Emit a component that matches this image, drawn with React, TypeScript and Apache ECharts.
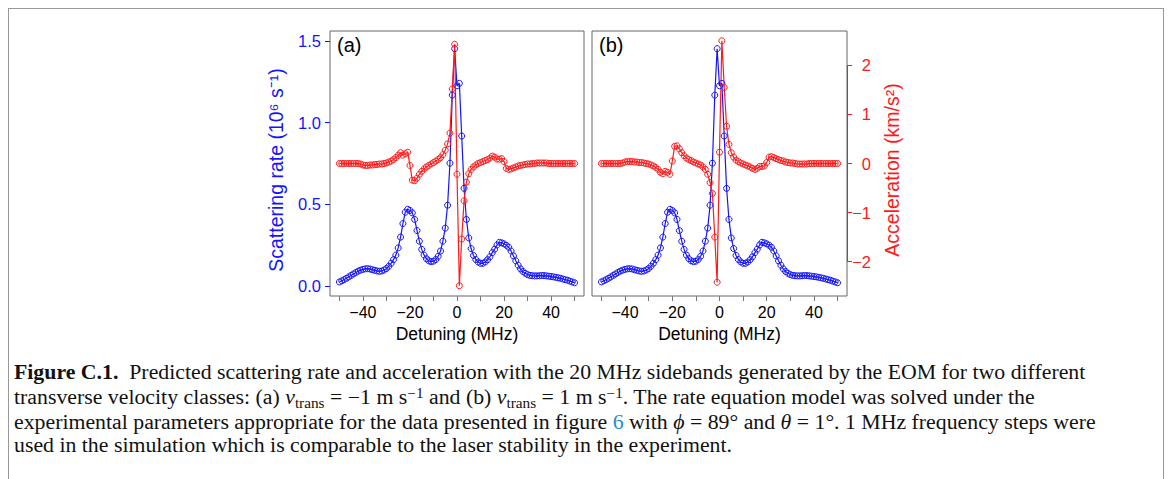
import React, { useEffect, useRef } from "react";
import * as echarts from "echarts";

const detuning = [
  -50, -49, -48, -47, -46, -45, -44, -43, -42, -41, -40, -39, -38, -37, -36, -35, -34, -33, -32, -31,
  -30, -29, -28, -27, -26, -25, -24, -23, -22, -21, -20, -19, -18, -17, -16, -15, -14, -13, -12, -11,
  -10, -9, -8, -7, -6, -5, -4, -3, -2, -1, 0, 1, 2, 3, 4, 5, 6, 7, 8, 9,
  10, 11, 12, 13, 14, 15, 16, 17, 18, 19, 20, 21, 22, 23, 24, 25, 26, 27, 28, 29,
  30, 31, 32, 33, 34, 35, 36, 37, 38, 39, 40, 41, 42, 43, 44, 45, 46, 47, 48, 49, 50,
];

// Panel (a): scattering rate (10^6 s^-1)
const scatterA = [
  0.026, 0.033, 0.040, 0.048, 0.057, 0.066, 0.075, 0.084, 0.092, 0.098,
  0.103, 0.106, 0.107, 0.105, 0.101, 0.097, 0.093, 0.091, 0.093, 0.099,
  0.108, 0.122, 0.140, 0.162, 0.190, 0.234, 0.300, 0.383, 0.452, 0.470,
  0.463, 0.448, 0.408, 0.340, 0.275, 0.225, 0.190, 0.168, 0.155, 0.150,
  0.153, 0.163, 0.183, 0.215, 0.275, 0.355, 0.495, 0.752, 1.168, 1.452,
  1.225, 1.240, 0.918, 0.598, 0.408, 0.295, 0.230, 0.188, 0.163, 0.148,
  0.140, 0.140, 0.148, 0.162, 0.180, 0.205, 0.226, 0.252, 0.268, 0.265,
  0.259, 0.250, 0.238, 0.215, 0.185, 0.155, 0.128, 0.106, 0.090, 0.079,
  0.071, 0.066, 0.064, 0.063, 0.063, 0.064, 0.065, 0.065, 0.063, 0.061,
  0.059, 0.057, 0.054, 0.051, 0.048, 0.044, 0.040, 0.036, 0.031, 0.026, 0.021,
];

// Panel (a): acceleration (km/s^2)
const accelA = [
  0.00, 0.00, 0.00, 0.00, 0.00, 0.00, 0.00, 0.00, 0.00, -0.01,
  -0.03, -0.04, -0.04, -0.03, -0.03, -0.02, -0.02, -0.01, -0.01, 0.00,
  0.01, 0.03, 0.05, 0.08, 0.12, 0.17, 0.22, 0.17, 0.20, 0.23,
  -0.04, -0.34, -0.35, -0.30, -0.22, -0.16, -0.11, -0.07, -0.04, -0.01,
  0.02, 0.05, 0.08, 0.12, 0.18, 0.27, 0.40, 0.62, 1.52, 2.43,
  -0.22, -2.49, -1.54, -0.76, -0.38, -0.21, -0.12, -0.07, -0.03, 0.00,
  0.02, 0.04, 0.06, 0.08, 0.11, 0.15, 0.13, 0.09, 0.09, 0.10,
  0.04, -0.10, -0.12, -0.11, -0.09, -0.07, -0.05, -0.04, -0.03, -0.02,
  -0.01, -0.01, 0.00, 0.00, 0.01, 0.01, 0.01, 0.01, 0.01, 0.00,
  0.00, 0.00, 0.00, 0.00, 0.00, 0.00, 0.00, 0.00, 0.00, 0.00, 0.00,
];

// Panel (b): scattering rate (10^6 s^-1)
const scatterB = [
  0.026, 0.033, 0.040, 0.048, 0.057, 0.066, 0.075, 0.084, 0.092, 0.098,
  0.103, 0.106, 0.107, 0.105, 0.101, 0.097, 0.093, 0.091, 0.093, 0.099,
  0.108, 0.122, 0.140, 0.162, 0.190, 0.234, 0.300, 0.383, 0.452, 0.470,
  0.463, 0.448, 0.408, 0.340, 0.275, 0.225, 0.190, 0.168, 0.155, 0.150,
  0.153, 0.163, 0.183, 0.215, 0.275, 0.355, 0.495, 0.752, 1.168, 1.452,
  1.225, 1.240, 0.918, 0.598, 0.408, 0.295, 0.230, 0.188, 0.163, 0.148,
  0.140, 0.140, 0.148, 0.162, 0.180, 0.205, 0.226, 0.252, 0.268, 0.265,
  0.259, 0.250, 0.238, 0.215, 0.185, 0.155, 0.128, 0.106, 0.090, 0.079,
  0.071, 0.066, 0.064, 0.063, 0.063, 0.064, 0.065, 0.065, 0.063, 0.061,
  0.059, 0.057, 0.054, 0.051, 0.048, 0.044, 0.040, 0.036, 0.031, 0.026, 0.021,
];

// Panel (b): acceleration (km/s^2)
const accelB = [
  0.00, 0.00, 0.00, 0.00, 0.00, 0.00, 0.00, 0.00, 0.00, 0.01,
  0.03, 0.04, 0.04, 0.04, 0.03, 0.03, 0.02, 0.02, 0.01, 0.00,
  -0.01, -0.03, -0.05, -0.08, -0.12, -0.18, -0.21, -0.16, -0.18, -0.22,
  0.05, 0.35, 0.36, 0.30, 0.22, 0.16, 0.11, 0.08, 0.06, 0.03,
  0.01, -0.01, -0.03, -0.07, -0.12, -0.22, -0.39, -0.61, -1.50, -2.42,
  0.23, 2.50, 1.55, 0.76, 0.39, 0.22, 0.13, 0.07, 0.04, 0.01,
  -0.01, -0.03, -0.05, -0.07, -0.10, -0.12, -0.10, -0.06, -0.06, -0.05,
  0.02, 0.13, 0.14, 0.12, 0.10, 0.08, 0.06, 0.05, 0.03, 0.02,
  0.01, 0.01, 0.00, -0.01, -0.01, -0.01, -0.01, -0.01, 0.00, 0.00,
  0.00, 0.00, 0.00, 0.00, 0.00, 0.00, 0.00, 0.00, 0.00, 0.00, 0.00,
];

const xTicks = [-50, -40, -30, -20, -10, 0, 10, 20, 30, 40, 50];
const xLabels = [-40, -20, 0, 20, 40];
const rateTicks = [0, 0.5, 1.0, 1.5];
const accelTicks = [-2, -1, 0, 1, 2];

const BLUE = "#1414ff";
const RED = "#ff1a1a";
const SANS = "'Liberation Sans', Arial, sans-serif";
const minus = (s: string) => s.replace("-", "\u2212");

const pairs = (ys: number[]) => detuning.map((x, i) => [x, ys[i]]);

function lineSeries(name: string, ys: number[], color: string, xi: number, yi: number, extra: any = {}) {
  return {
    name,
    type: "line",
    xAxisIndex: xi,
    yAxisIndex: yi,
    data: pairs(ys),
    symbol: "circle",
    symbolSize: 6,
    showSymbol: true,
    lineStyle: { color, width: 1.2 },
    itemStyle: { color: "rgba(255,255,255,0)", borderColor: color, borderWidth: 1 },
    emphasis: { disabled: true },
    ...extra,
  };
}

function xAxis(gridIndex: number) {
  return {
    type: "value",
    gridIndex,
    position: "bottom",
    min: -54,
    max: 54,
    axisLine: { show: false, onZero: false },
    splitLine: { show: false },
    axisTick: { show: true, inside: false, length: 5, customValues: xTicks, lineStyle: { color: "#777" } },
    axisLabel: {
      customValues: xLabels,
      formatter: (v: number) => minus(String(v)),
      color: "#000",
      fontSize: 16,
      fontFamily: SANS,
      margin: 8,
    },
    name: "Detuning (MHz)",
    nameLocation: "middle",
    nameGap: 28,
    nameTextStyle: { color: "#000", fontSize: 17.5, fontFamily: SANS },
  };
}

export default function App() {
  const ref = useRef<HTMLDivElement>(null);
  useEffect(() => {
    if (!ref.current) return;
    const chart = echarts.init(ref.current, undefined, { renderer: "svg" });
    chart.setOption({
      animation: false,
      backgroundColor: "#fff",
      grid: [
        { left: 330, top: 31, width: 254, height: 265, show: true, borderColor: "#666", borderWidth: 1, backgroundColor: "transparent" },
        { left: 592, top: 31, width: 255, height: 265, show: true, borderColor: "#666", borderWidth: 1, backgroundColor: "transparent" },
      ],
      xAxis: [xAxis(0), xAxis(1)],
      yAxis: [
        {
          type: "value",
          gridIndex: 0,
          position: "left",
          min: -0.06,
          max: 1.56,
          axisLine: { show: false, onZero: false },
          splitLine: { show: false },
          axisTick: { show: true, inside: false, length: 5, customValues: rateTicks, lineStyle: { color: BLUE } },
          axisLabel: {
            customValues: rateTicks,
            formatter: (v: number) => v.toFixed(1),
            color: BLUE,
            fontSize: 16.5,
            fontFamily: SANS,
            margin: 9,
          },
        },
        { type: "value", gridIndex: 0, position: "right", min: -2.7, max: 2.7, show: false, axisLine: { onZero: false } },
        { type: "value", gridIndex: 1, position: "left", min: -0.06, max: 1.56, show: false, axisLine: { onZero: false } },
        {
          type: "value",
          gridIndex: 1,
          position: "right",
          min: -2.7,
          max: 2.7,
          axisLine: { show: false, onZero: false },
          splitLine: { show: false },
          axisTick: { show: true, inside: false, length: 5, customValues: accelTicks, lineStyle: { color: RED } },
          axisLabel: {
            customValues: accelTicks,
            formatter: (v: number) => minus(String(v)),
            color: RED,
            fontSize: 16.5,
            fontFamily: SANS,
            align: "right",
            margin: 24,
          },
        },
      ],
      series: [
        lineSeries("rateA", scatterA, BLUE, 0, 0),
        lineSeries("accelA", accelA, RED, 0, 1),
        lineSeries("rateB", scatterB, BLUE, 1, 2),
        lineSeries("accelB", accelB, RED, 1, 3, {
          markLine: {
            silent: true,
            symbol: ["none", "none"],
            label: { show: false },
            lineStyle: { color: RED, width: 1, type: "solid" },
            data: [[{ coord: [54, -2] }, { coord: [54, 2] }]],
          },
        }),
      ],
      graphic: [
        { type: "text", left: 337, top: 35, style: { text: "(a)", fontSize: 20, fontFamily: SANS, fill: "#000" } },
        { type: "text", left: 599, top: 35, style: { text: "(b)", fontSize: 20, fontFamily: SANS, fill: "#000" } },
        {
          type: "text",
          x: 276,
          y: 170,
          rotation: Math.PI / 2,
          style: {
            text: "Scattering rate (10\u2076 s\u207B\u00B9)",
            fontSize: 19.5,
            fontFamily: SANS,
            fill: BLUE,
            align: "center",
            verticalAlign: "middle",
          },
        },
        {
          type: "text",
          x: 892,
          y: 170,
          rotation: Math.PI / 2,
          style: {
            text: "Acceleration (km/s\u00B2)",
            fontSize: 19.5,
            fontFamily: SANS,
            fill: RED,
            align: "center",
            verticalAlign: "middle",
          },
        },
      ],
    });
    return () => chart.dispose();
  }, []);

  const cap: React.CSSProperties = {
    position: "absolute",
    left: 14,
    whiteSpace: "nowrap",
    fontFamily: "'Liberation Serif', 'Times New Roman', serif",
    fontSize: 20,
    lineHeight: "24px",
    color: "#111",
    transform: "scaleX(1.09)",
    transformOrigin: "0 0",
  };
  const sub: React.CSSProperties = { fontSize: "0.7em", position: "relative", top: "0.3em" };
  const sup: React.CSSProperties = { fontSize: "0.7em", position: "relative", top: "-0.45em" };

  return (
    <div style={{ position: "fixed", left: 0, top: 0, width: 1174, height: 479, overflow: "hidden", background: "#fff" }}>
      <div ref={ref} style={{ position: "absolute", left: 0, top: 0, width: 1174, height: 479 }} />
      <div style={{ position: "absolute", left: 8, top: 8, width: 1154, height: 480, borderTop: "1px solid #999", borderLeft: "1px solid #999", borderRight: "1px solid #999", pointerEvents: "none" }} />
      <div style={{ ...cap, top: 360 }}>
        <b>Figure C.1.</b>&nbsp; Predicted scattering rate and acceleration with the 20 MHz sidebands generated by the EOM for two different
      </div>
      <div style={{ ...cap, top: 385 }}>
        transverse velocity classes: (a) <i>v</i><span style={sub}>trans</span> = −1 m s<span style={sup}>−1</span> and (b) <i>v</i><span style={sub}>trans</span> = 1 m s<span style={sup}>−1</span>. The rate equation model was solved under the
      </div>
      <div style={{ ...cap, top: 410 }}>
        experimental parameters appropriate for the data presented in figure <span style={{ color: "#1d8fd6" }}>6</span> with <i>ϕ</i> = 89° and <i>θ</i> = 1°. 1 MHz frequency steps were
      </div>
      <div style={{ ...cap, top: 433 }}>
        used in the simulation which is comparable to the laser stability in the experiment.
      </div>
    </div>
  );
}
